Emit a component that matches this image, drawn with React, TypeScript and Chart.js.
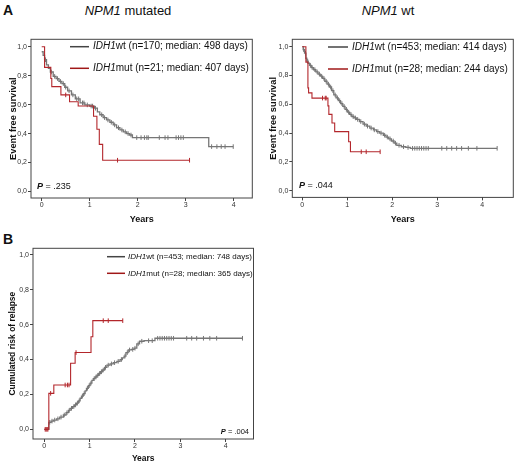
import React, { useEffect, useRef } from 'react';
import { Chart, registerables } from 'chart.js';

Chart.register(...registerables);

const FONT = '"Liberation Sans", Arial, Helvetica, sans-serif';
Chart.defaults.font.family = FONT;

// ---------- Panel A, NPM1 mutated (event free survival) ----------
const A1_WT_T = [0, 0.03, 0.06, 0.10, 0.14, 0.18, 0.24, 0.30, 0.36, 0.42, 0.48, 0.54, 0.62, 0.70, 0.80, 0.90, 1.00, 1.10, 1.16, 1.21, 1.28, 1.35, 1.42, 1.49, 1.56, 1.63, 1.70, 1.77, 1.83, 1.89, 3.48];
const A1_WT_S = [0.965, 0.94, 0.91, 0.875, 0.85, 0.825, 0.795, 0.78, 0.76, 0.745, 0.72, 0.695, 0.667, 0.64, 0.612, 0.598, 0.59, 0.575, 0.55, 0.53, 0.51, 0.494, 0.478, 0.46, 0.44, 0.425, 0.412, 0.40, 0.39, 0.372, 0.31];
const A1_WT_CENS = [0.08, 0.2, 0.27, 0.33, 0.39, 0.45, 0.5, 0.57, 0.65, 0.73, 0.77, 0.85, 0.88, 0.95, 1.03, 1.06, 1.12, 1.25, 1.31, 1.38, 1.45, 1.52, 1.6, 1.67, 1.74, 1.8, 1.86, 1.98, 2.07, 2.14, 2.19, 2.22, 2.45, 2.57, 2.63, 2.8, 2.85, 2.9, 2.95, 3.54, 3.65, 3.74, 3.82, 3.99];
const A1_MUT_T = [0, 0.06, 0.19, 0.21, 0.40, 0.58, 0.76, 1.08, 1.15, 1.20, 1.27];
const A1_MUT_S = [1.0, 0.857, 0.78, 0.724, 0.667, 0.62, 0.59, 0.52, 0.43, 0.325, 0.216];
const A1_MUT_CENS = [0.5, 1.58, 3.08];

// ---------- Panel A, NPM1 wt (event free survival) ----------
const A2_WT_T = [0, 0.02, 0.05, 0.08, 0.10, 0.13, 0.16, 0.20, 0.25, 0.30, 0.35, 0.40, 0.45, 0.50, 0.55, 0.60, 0.65, 0.70, 0.75, 0.80, 0.85, 0.90, 0.95, 1.00, 1.05, 1.10, 1.15, 1.20, 1.27, 1.35, 1.42, 1.50, 1.58, 1.65, 1.72, 1.80, 1.86, 1.92, 1.98, 2.04, 2.10, 2.20, 2.30, 2.40];
const A2_WT_S = [1.0, 0.98, 0.955, 0.92, 0.90, 0.885, 0.87, 0.855, 0.84, 0.825, 0.81, 0.795, 0.78, 0.76, 0.74, 0.72, 0.695, 0.665, 0.645, 0.625, 0.605, 0.585, 0.565, 0.545, 0.53, 0.515, 0.505, 0.495, 0.48, 0.462, 0.448, 0.435, 0.422, 0.41, 0.40, 0.385, 0.372, 0.36, 0.345, 0.33, 0.315, 0.305, 0.30, 0.294];
const A2_WT_CENS = [0.03, 0.07, 0.12, 0.18, 0.22, 0.28, 0.33, 0.38, 0.43, 0.48, 0.53, 0.58, 0.63, 0.68, 0.73, 0.78, 0.83, 0.88, 0.93, 0.98, 1.03, 1.08, 1.13, 1.18, 1.23, 1.30, 1.38, 1.45, 1.53, 1.60, 1.68, 1.75, 1.83, 1.89, 1.95, 2.02, 2.07, 2.15, 2.25, 2.35, 2.45, 2.50, 2.55, 2.60, 2.65, 2.70, 2.75, 2.80, 3.10, 3.21, 3.32, 3.43, 3.54, 3.69, 3.88, 4.33];
const A2_MUT_T = [0, 0.08, 0.125, 0.14, 0.215, 0.57, 0.59, 0.66, 0.72, 1.03, 1.07];
const A2_MUT_S = [1.0, 0.893, 0.714, 0.679, 0.643, 0.589, 0.53, 0.47, 0.41, 0.34, 0.27];
const A2_MUT_CENS = [0.45, 0.51, 0.53, 1.31, 1.42, 1.73];

// ---------- Panel B (cumulated risk of relapse) ----------
const B_WT_T = [0, 0.10, 0.15, 0.20, 0.27, 0.34, 0.42, 0.48, 0.53, 0.57, 0.62, 0.67, 0.71, 0.75, 0.79, 0.82, 0.86, 0.90, 0.93, 0.97, 1.01, 1.05, 1.08, 1.12, 1.16, 1.20, 1.24, 1.28, 1.33, 1.38, 1.45, 1.52, 1.60, 1.67, 1.72, 1.76, 1.80, 1.85, 1.92, 1.98, 2.04, 2.10, 2.20, 2.44];
const B_WT_S = [0, 0.04, 0.047, 0.053, 0.06, 0.07, 0.082, 0.095, 0.108, 0.12, 0.13, 0.14, 0.15, 0.163, 0.178, 0.19, 0.205, 0.22, 0.235, 0.25, 0.265, 0.28, 0.29, 0.30, 0.31, 0.32, 0.33, 0.34, 0.355, 0.368, 0.375, 0.382, 0.39, 0.40, 0.41, 0.42, 0.44, 0.455, 0.458, 0.465, 0.49, 0.505, 0.508, 0.522];
const B_WT_CENS = [0.12, 0.17, 0.23, 0.30, 0.37, 0.44, 0.50, 0.55, 0.60, 0.65, 0.69, 0.73, 0.77, 0.84, 0.88, 0.95, 0.99, 1.03, 1.10, 1.14, 1.18, 1.22, 1.26, 1.30, 1.35, 1.41, 1.48, 1.55, 1.63, 1.70, 1.78, 1.83, 1.88, 1.95, 2.00, 2.07, 2.15, 2.30, 2.38, 2.50, 2.55, 2.60, 2.65, 2.70, 2.75, 2.80, 2.85, 3.14, 3.25, 3.36, 3.51, 3.65, 3.80, 4.37];
const B_MUT_T = [0, 0.10, 0.21, 0.58, 0.68, 1.03, 1.07];
const B_MUT_S = [0, 0.206, 0.254, 0.379, 0.44, 0.531, 0.623];
const B_MUT_CENS = [0.02, 0.04, 0.06, 0.08, 0.14, 0.46, 0.51, 0.545, 0.70, 1.30, 1.41, 1.73];

// ---------- labels ----------
const X_TICKS = [0, 1, 2, 3, 4];
const Y_TICKS = [0, 0.2, 0.4, 0.6, 0.8, 1.0];
const GENE = 'IDH1';
const A1_LEGEND = ['wt (n=170; median: 498 days)', 'mut (n=21; median: 407 days)'];
const A2_LEGEND = ['wt (n=453; median: 414 days)', 'mut (n=28; median: 244 days)'];
const B_LEGEND = ['wt (n=453; median: 748 days)', 'mut (n=28; median: 365 days)'];
const P_VALUES = ['.235', '.044', '.004'];
const Y_TITLES = ['Event free survival', 'Event free survival', 'Cumulated risk of relapse'];
const X_TITLE = 'Years';

const GREY = '#767676';
const RED = '#b3262b';
const LEG_GREY = '#444444';
const LEG_RED = '#a01818';

function stepAt(ts: number[], ss: number[], t: number) {
  let v = ss[0];
  for (let i = 0; i < ts.length; i++) if (ts[i] <= t) v = ss[i];
  return v;
}

function curvePoints(ts: number[], ss: number[], cens: number[]) {
  const pts = ts.map((t, i) => ({ x: t, y: ss[i] }));
  const last = Math.max(...cens);
  if (last > ts[ts.length - 1]) pts.push({ x: last, y: ss[ss.length - 1] });
  return pts;
}

function censorPoints(ts: number[], ss: number[], cens: number[]) {
  return cens.map((t) => ({ x: t, y: stepAt(ts, ss, t) }));
}

type Panel = {
  key: string;
  left: number; top: number; width: number; height: number;
  area: { left: number; top: number; right: number; bottom: number };
  xMin: number; xMax: number; yMin: number; yMax: number;
  wt: [number[], number[], number[]];
  mut: [number[], number[], number[]];
  legend: string[];
  legendFont: number;
  legendLine: [number, number];
  legendTextX: number;
  legendRows: [number, number];
  pValue: string;
  pFont: number;
  pX: number; pY: number; pAlignRight: boolean;
  yTitle: string;
  titleFont: number; yTitleFont: number;
  yTitlePad: number; xTitlePad: number;
  tickFont: number;
};

const PANELS: Panel[] = [
  {
    key: 'a1', left: 0, top: 30, width: 260, height: 200,
    area: { left: 31, top: 9.3, right: 252.3, bottom: 168 },
    xMin: -0.223, xMax: 4.3875, yMin: -0.045, yMax: 1.051,
    wt: [A1_WT_T, A1_WT_S, A1_WT_CENS], mut: [A1_MUT_T, A1_MUT_S, A1_MUT_CENS],
    legend: A1_LEGEND, legendFont: 10, legendLine: [70, 89], legendTextX: 93, legendRows: [16.7, 38.3],
    pValue: P_VALUES[0], pFont: 9, pX: 37, pY: 157, pAlignRight: false,
    yTitle: Y_TITLES[0], titleFont: 9, yTitleFont: 9.3, yTitlePad: 7.7, xTitlePad: 5,
    tickFont: 7,
  },
  {
    key: 'a2', left: 260, top: 30, width: 260, height: 200,
    area: { left: 32.3, top: 9.3, right: 253.3, bottom: 167.4 },
    xMin: -0.222, xMax: 4.689, yMin: -0.047, yMax: 1.0515,
    wt: [A2_WT_T, A2_WT_S, A2_WT_CENS], mut: [A2_MUT_T, A2_MUT_S, A2_MUT_CENS],
    legend: A2_LEGEND, legendFont: 10, legendLine: [68, 88], legendTextX: 92, legendRows: [17, 39],
    pValue: P_VALUES[1], pFont: 9, pX: 39, pY: 156, pAlignRight: false,
    yTitle: Y_TITLES[1], titleFont: 9, yTitleFont: 9.3, yTitlePad: 7.7, xTitlePad: 5,
    tickFont: 7,
  },
  {
    key: 'b', left: 0, top: 240, width: 260, height: 227,
    area: { left: 33, top: 8.3, right: 253.5, bottom: 199 },
    xMin: -0.249, xMax: 4.613, yMin: -0.0557, yMax: 1.038,
    wt: [B_WT_T, B_WT_S, B_WT_CENS], mut: [B_MUT_T, B_MUT_S, B_MUT_CENS],
    legend: B_LEGEND, legendFont: 8, legendLine: [107, 125], legendTextX: 128, legendRows: [16.7, 33.3],
    pValue: P_VALUES[2], pFont: 7.5, pX: 249, pY: 191.7, pAlignRight: true,
    yTitle: Y_TITLES[2], titleFont: 8.5, yTitleFont: 8.5, yTitlePad: 7.6, xTitlePad: 3,
    tickFont: 7,
  },
];

function makeConfig(p: Panel): any {
  const [wT, wS, wC] = p.wt;
  const [mT, mS, mC] = p.mut;
  const overlay = {
    id: 'overlay_' + p.key,
    afterDraw(chart: any) {
      const { ctx, chartArea: a } = chart;
      ctx.save();
      ctx.strokeStyle = '#444';
      ctx.lineWidth = 1;
      ctx.strokeRect(a.left, a.top, a.right - a.left, a.bottom - a.top);
      // legend
      const colors = [LEG_GREY, LEG_RED];
      ctx.textBaseline = 'middle';
      p.legend.forEach((txt, i) => {
        const y = p.legendRows[i];
        ctx.strokeStyle = colors[i];
        ctx.lineWidth = 1.5;
        ctx.beginPath();
        ctx.moveTo(p.legendLine[0], y);
        ctx.lineTo(p.legendLine[1], y);
        ctx.stroke();
        ctx.fillStyle = '#111';
        ctx.font = `italic ${p.legendFont}px ${FONT}`;
        ctx.fillText(GENE, p.legendTextX, y);
        const w = ctx.measureText(GENE).width;
        ctx.font = `${p.legendFont}px ${FONT}`;
        ctx.fillText(txt, p.legendTextX + w, y);
      });
      // P value
      const rest = ' = ' + p.pValue;
      ctx.font = `bold italic ${p.pFont}px ${FONT}`;
      const wp = ctx.measureText('P').width;
      ctx.font = `${p.pFont}px ${FONT}`;
      const wr = ctx.measureText(rest).width;
      const x0 = p.pAlignRight ? p.pX - wp - wr : p.pX;
      ctx.fillStyle = '#111';
      ctx.font = `bold italic ${p.pFont}px ${FONT}`;
      ctx.fillText('P', x0, p.pY);
      ctx.font = `${p.pFont}px ${FONT}`;
      ctx.fillText(rest, x0 + wp, p.pY);
      ctx.restore();
    },
  };

  const censorStyle = (color: string) => ({
    showLine: false,
    pointStyle: 'line',
    rotation: 90,
    pointRadius: 2.3,
    pointBorderWidth: 1,
    pointBorderColor: color,
    pointBackgroundColor: color,
    borderColor: color,
  });

  return {
    type: 'line',
    data: {
      datasets: [
        { label: 'mut censored', data: censorPoints(mT, mS, mC), ...censorStyle(RED) },
        { label: 'mut', data: curvePoints(mT, mS, mC), stepped: true, borderColor: RED, borderWidth: 1.1, pointRadius: 0, fill: false },
        { label: 'wt censored', data: censorPoints(wT, wS, wC), ...censorStyle(GREY) },
        { label: 'wt', data: curvePoints(wT, wS, wC), stepped: true, borderColor: GREY, borderWidth: 1.3, pointRadius: 0, fill: false },
      ],
    },
    options: {
      animation: false,
      responsive: false,
      maintainAspectRatio: false,
      events: [],
      layout: { padding: { left: 0, top: p.area.top, right: p.width - p.area.right, bottom: 0 } },
      plugins: { legend: { display: false }, tooltip: { enabled: false }, title: { display: false } },
      scales: {
        x: {
          type: 'linear',
          min: p.xMin,
          max: p.xMax,
          afterBuildTicks: (s: any) => { s.ticks = X_TICKS.map((v) => ({ value: v })); },
          afterFit: (s: any) => { s.height = p.height - p.area.bottom; },
          grid: { drawOnChartArea: false, drawTicks: true, tickLength: 3, color: '#444', lineWidth: 1 },
          border: { display: false },
          ticks: { font: { size: p.tickFont }, color: '#333', padding: 0, maxRotation: 0, autoSkip: false, callback: (v: any) => String(v) },
          title: { display: true, text: X_TITLE, color: '#111', font: { size: p.titleFont, weight: 'bold' }, padding: { top: 0, bottom: p.xTitlePad } },
        },
        y: {
          type: 'linear',
          min: p.yMin,
          max: p.yMax,
          afterBuildTicks: (s: any) => { s.ticks = Y_TICKS.map((v) => ({ value: v })); },
          afterFit: (s: any) => { s.width = p.area.left; },
          grid: { drawOnChartArea: false, drawTicks: true, tickLength: 3, color: '#444', lineWidth: 1 },
          border: { display: false },
          ticks: { font: { size: p.tickFont }, color: '#333', padding: 1, autoSkip: false, callback: (v: any) => Number(v).toFixed(1).replace('.', ',') },
          title: { display: true, text: p.yTitle, color: '#111', font: { size: p.yTitleFont, weight: 'bold' }, padding: { top: p.yTitlePad, bottom: 0 } },
        },
      },
    },
    plugins: [overlay],
  };
}

function KMChart({ panel }: { panel: Panel }) {
  const ref = useRef<HTMLCanvasElement | null>(null);
  useEffect(() => {
    if (!ref.current) return;
    const chart = new Chart(ref.current, makeConfig(panel));
    return () => chart.destroy();
  }, [panel]);
  return (
    <canvas
      ref={ref}
      width={panel.width}
      height={panel.height}
      style={{ position: 'absolute', left: panel.left, top: panel.top, width: panel.width, height: panel.height }}
    />
  );
}

export default function App() {
  const text: React.CSSProperties = { position: 'absolute', fontFamily: FONT, color: '#111', lineHeight: '14px', whiteSpace: 'nowrap' };
  return (
    <div style={{ position: 'absolute', left: 0, top: 0, width: 520, height: 467, background: '#fff', overflow: 'hidden' }}>
      <div style={{ ...text, left: 3, top: 3, fontSize: 14, fontWeight: 'bold' }}>A</div>
      <div style={{ ...text, left: 0, width: 256, top: 4, fontSize: 13, textAlign: 'center' }}>
        <i>NPM1</i> mutated
      </div>
      <div style={{ ...text, left: 260, width: 256, top: 4, fontSize: 13, textAlign: 'center' }}>
        <i>NPM1</i> wt
      </div>
      <div style={{ ...text, left: 3, top: 232, fontSize: 14, fontWeight: 'bold' }}>B</div>
      {PANELS.map((p) => (
        <KMChart key={p.key} panel={p} />
      ))}
    </div>
  );
}
